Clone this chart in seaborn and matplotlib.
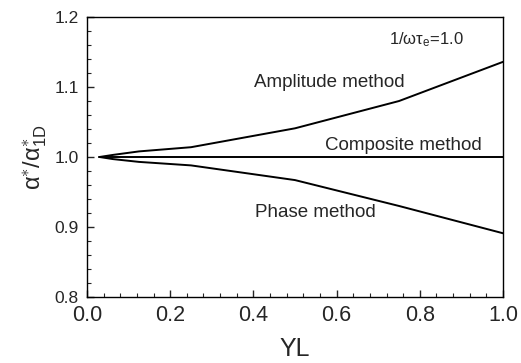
import numpy as np
import pandas as pd
import matplotlib
matplotlib.use("Agg")
import matplotlib.pyplot as plt
import seaborn as sns
from matplotlib.ticker import MultipleLocator

# Data
yl = [0.03, 0.0625, 0.125, 0.25, 0.5, 0.75, 1.0]
amplitude = [1.0, 1.003, 1.008, 1.014, 1.041, 1.080, 1.136]
phase = [1.0, 0.997, 0.993, 0.988, 0.967, 0.930, 0.891]
composite = [1.0, 1.0, 1.0, 1.0, 1.0, 1.0, 1.0]
series_names = ["Amplitude method", "Composite method", "Phase method"]

df = pd.DataFrame({
    "YL": yl * 3,
    "ratio": amplitude + composite + phase,
    "method": [series_names[0]] * len(yl) + [series_names[1]] * len(yl) + [series_names[2]] * len(yl),
})

sns.set_style("ticks")
plt.rcParams["font.family"] = ["Liberation Sans", "DejaVu Sans"]
plt.rcParams["mathtext.fontset"] = "custom"
plt.rcParams["mathtext.rm"] = "Liberation Sans"
plt.rcParams["mathtext.it"] = "Liberation Sans:italic"
plt.rcParams["mathtext.bf"] = "Liberation Sans:bold"

fig = plt.figure(figsize=(5.21, 3.63), dpi=100)
ax = fig.add_axes([0.167, 0.182, 0.7985, 0.771])

sns.lineplot(data=df, x="YL", y="ratio", hue="method",
             palette=["black", "black", "black"], linewidth=1.4,
             legend=False, ax=ax, sort=True)

ax.set_xlim(0, 1.0)
ax.set_ylim(0.8, 1.2)
ax.xaxis.set_minor_locator(MultipleLocator(0.04))
ax.yaxis.set_minor_locator(MultipleLocator(0.02))
ax.set_xticks([0.0, 0.2, 0.4, 0.6, 0.8, 1.0])
ax.set_xticklabels(["0.0", "0.2", "0.4", "0.6", "0.8", "1.0"], fontsize=15.5)
ax.set_yticks([0.8, 0.9, 1.0, 1.1, 1.2])
ax.set_yticklabels(["0.8", "0.9", "1.0", "1.1", "1.2"], fontsize=12.5)
ax.tick_params(axis="both", which="major", direction="in", length=5, width=1)
ax.tick_params(axis="both", which="minor", direction="in", length=3, width=0.8)
ax.tick_params(axis="x", pad=6)
ax.tick_params(axis="y", pad=6)

for s in ax.spines.values():
    s.set_visible(True)
    s.set_linewidth(1.0)
    s.set_color("black")

ax.set_xlabel("YL", fontsize=18, labelpad=8)
ax.set_ylabel("α$^{\\ast}$/α$^{\\ast}_{\\rm 1D}$", fontsize=17, labelpad=4)

ax.text(0.582, 1.107, "Amplitude method", fontsize=13.5, ha="center", va="center")
ax.text(0.76, 1.017, "Composite method", fontsize=13.5, ha="center", va="center")
ax.text(0.548, 0.920, "Phase method", fontsize=13.5, ha="center", va="center")
ax.text(0.815, 1.168, "1/ωτ$_{\\rm e}$=1.0", fontsize=12, ha="center", va="center")

fig.savefig("out.png", dpi=100)
